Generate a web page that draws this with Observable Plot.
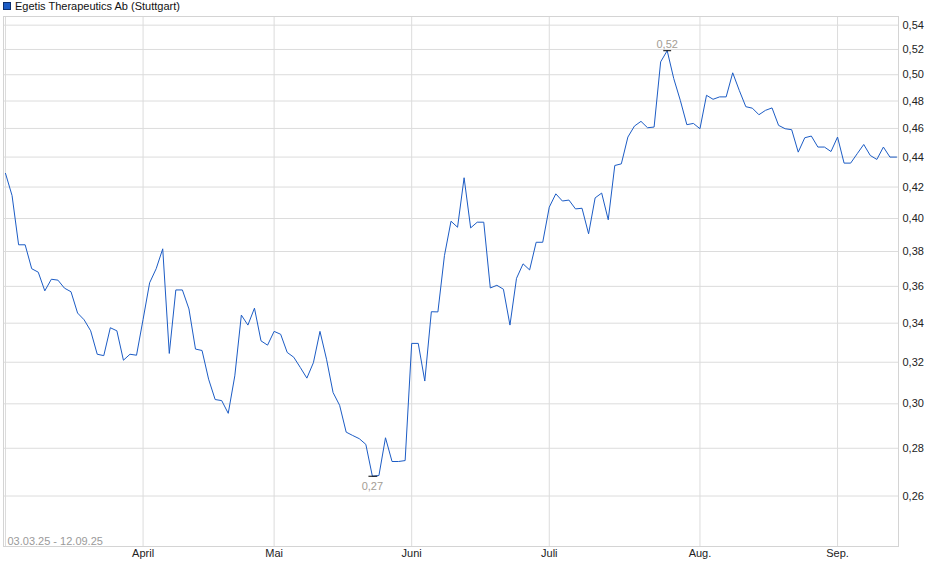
<!DOCTYPE html>
<html>
<head>
<meta charset="utf-8">
<script src="https://cdn.jsdelivr.net/npm/d3@7"></script>
<script src="https://cdn.jsdelivr.net/npm/@observablehq/plot@0.6"></script>
<style>
  html, body { margin: 0; padding: 0; background: #fff; }
  #wrap { position: relative; width: 940px; height: 579px; font-family: "Liberation Sans", Arial, sans-serif; }
  #legend { position: absolute; left: 3px; top: 0px; font-size: 11px; line-height: 13px; color: #111; white-space: nowrap; }
  #legend .sw { display: inline-block; width: 6px; height: 6px; background: #1c5cc5; border: 1px solid #0d2f6e; margin-right: 4px; vertical-align: 0px; }
  #chart svg { display: block; }
</style>
</head>
<body>
<div id="wrap">
  <div id="chart"></div>
  <div id="legend"><span class="sw"></span>Egetis Therapeutics Ab (Stuttgart)</div>
</div>
<script>
// Daily closing prices (EUR), trading days 03.03.25 - 12.09.25
const prices = [
  0.429, 0.4145, 0.384, 0.384, 0.370, 0.368, 0.3575, 0.364, 0.3635, 0.359,
  0.357, 0.3454, 0.3418, 0.336, 0.324, 0.3233, 0.3376, 0.336, 0.321, 0.324,
  0.3235, 0.342, 0.362, 0.370, 0.3816, 0.3244, 0.358, 0.358, 0.3476, 0.3266,
  0.3259, 0.3117, 0.302, 0.3015, 0.2956, 0.3133, 0.3443, 0.339, 0.348, 0.3308,
  0.3286, 0.3357, 0.3342, 0.3249, 0.3225, 0.3174, 0.3122, 0.3198, 0.3357, 0.3215,
  0.3053, 0.2993, 0.2871, 0.2856, 0.2842, 0.2817, 0.2681, 0.2684, 0.2846, 0.2743,
  0.2743, 0.2747, 0.3295, 0.3295, 0.3108, 0.3461, 0.346, 0.3776, 0.3983, 0.3946,
  0.4261, 0.3942, 0.3977, 0.3977, 0.3591, 0.3606, 0.3584, 0.339, 0.3645, 0.3728,
  0.3693, 0.3855, 0.3855, 0.4071, 0.4156, 0.411, 0.4116, 0.406, 0.4064, 0.3906,
  0.413, 0.4161, 0.3992, 0.4343, 0.4354, 0.4539, 0.4617, 0.4651, 0.4605, 0.461,
  0.5101, 0.519, 0.497, 0.4805, 0.4627, 0.4636, 0.4598, 0.4843, 0.4813, 0.4831,
  0.4831, 0.5015, 0.488, 0.4758, 0.4747, 0.4699, 0.4731, 0.4749, 0.4622, 0.4598,
  0.4591, 0.4434, 0.4534, 0.4546, 0.4469, 0.4469, 0.4438, 0.4539, 0.4359, 0.4359,
  0.4423, 0.4487, 0.4411, 0.4384, 0.4469, 0.44, 0.44
];

// first trading day of each month (index into prices) and its label
const monthTickIndex = [21, 41, 62, 83, 106, 127];
const monthTickLabels = ["April", "Mai", "Juni", "Juli", "Aug.", "Sep."];

const yTicks = [0.26, 0.28, 0.30, 0.32, 0.34, 0.36, 0.38, 0.40, 0.42, 0.44, 0.46, 0.48, 0.50, 0.52, 0.54];

const dateRangeLabel = "03.03.25 - 12.09.25";
const maxLabel = "0,52";
const minLabel = "0,27";

const data = prices.map((v, i) => ({ i, v }));
const maxIdx = d3.maxIndex(prices);
const minIdx = d3.minIndex(prices);
const maxPt = [{ i: maxIdx, v: prices[maxIdx], label: maxLabel }];
const minPt = [{ i: minIdx, v: prices[minIdx], label: minLabel }];

const fmt = d => d.toFixed(2).replace(".", ",");
const gridColor = "#dcdcdc";

const chart = Plot.plot({
  width: 940,
  height: 579,
  marginTop: 16,
  marginBottom: 33,
  marginLeft: 3,
  marginRight: 42,
  style: { fontFamily: '"Liberation Sans", Arial, sans-serif', fontSize: "11px", color: "#222", background: "#fff" },
  x: { type: "linear", domain: [-0.305, prices.length - 1 + 0.305], axis: null },
  y: { type: "log", domain: [0.2404, 0.5473], axis: null },
  marks: [
    Plot.gridY(yTicks, { stroke: gridColor, strokeOpacity: 1 }),
    Plot.gridX(monthTickIndex, { stroke: gridColor, strokeOpacity: 1 }),
    Plot.ruleX([0], { stroke: gridColor }),
    Plot.frame({ stroke: "#d4d4d4" }),
    Plot.axisY(yTicks, {
      anchor: "right", tickSize: 0, tickPadding: 4, tickFormat: fmt,
      fill: "#222", label: null
    }),
    Plot.axisX(monthTickIndex, {
      anchor: "bottom", tickSize: 0, tickPadding: 3,
      tickFormat: d => monthTickLabels[monthTickIndex.indexOf(d)],
      fill: "#222", label: null
    }),
    Plot.text([dateRangeLabel], {
      frameAnchor: "bottom-left", dx: 4, dy: -2, fill: "#9a9a9a", fontSize: 11
    }),
    Plot.line(data, { x: "i", y: "v", stroke: "#1c5cc5", strokeWidth: 1 }),
    Plot.link(maxPt, { x1: d => d.i - 0.6, x2: d => d.i + 0.6, y1: "v", y2: "v", stroke: "#000", strokeWidth: 1 }),
    Plot.link(minPt, { x1: d => d.i - 0.6, x2: d => d.i + 0.75, y1: "v", y2: "v", stroke: "#000", strokeWidth: 1 }),
    Plot.text(maxPt, { x: "i", y: "v", text: "label", lineAnchor: "bottom", dy: -3, fill: "#a39d94", fontSize: 11 }),
    Plot.text(minPt, { x: "i", y: "v", text: "label", lineAnchor: "top", dy: 6, fill: "#a39d94", fontSize: 11 })
  ]
});

document.getElementById("chart").appendChild(chart);
</script>
</body>
</html>
